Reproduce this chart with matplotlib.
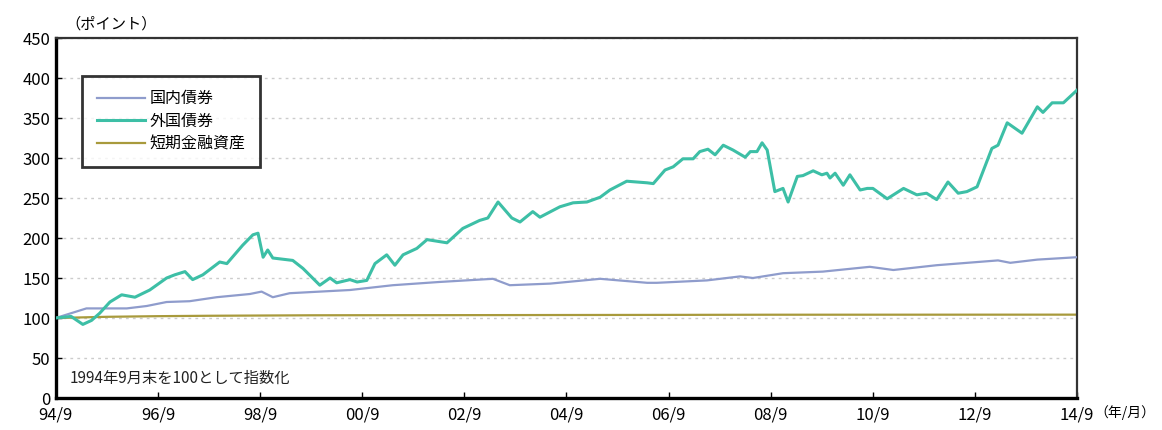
# %% Load the packages
import matplotlib
matplotlib.use('Agg')
import matplotlib.pyplot as plt
import numpy as np

plt.rcParams['font.family'] = ['Noto Sans CJK JP', 'DejaVu Sans']

# %% Data (index, end of Sep 1994 = 100), x in years since 94/9
foreign_t = [0, 0.3, 0.53, 0.7, 0.86, 1.06, 1.29, 1.55, 1.84, 2.17, 2.33, 2.53, 2.68,
             2.88, 3.21, 3.35, 3.66, 3.86, 3.96, 4.06, 4.15, 4.25, 4.64, 4.84, 5.17,
             5.37, 5.5, 5.76, 5.9, 6.09, 6.25, 6.48, 6.64, 6.8, 7.07, 7.27, 7.66,
             7.97, 8.3, 8.46, 8.66, 8.93, 9.09, 9.34, 9.48, 9.87, 10.13, 10.4, 10.66,
             10.85, 11.18, 11.38, 11.58, 11.7, 11.93, 12.09, 12.28, 12.48, 12.61,
             12.77, 12.91, 13.07, 13.26, 13.5, 13.6, 13.73, 13.83, 13.93, 14.08,
             14.24, 14.34, 14.52, 14.63, 14.83, 15.0, 15.1, 15.16, 15.26, 15.42,
             15.55, 15.75, 15.89, 16.0, 16.28, 16.6, 16.86, 17.05, 17.25, 17.47,
             17.67, 17.84, 18.04, 18.33, 18.45, 18.63, 18.92, 19.22, 19.33, 19.51,
             19.73, 20.0]
foreign = [100, 102, 92, 97, 106, 120, 129, 126, 135, 150, 154, 158, 148,
           154, 170, 168, 191, 204, 206, 176, 185, 175, 172, 162, 141,
           150, 144, 148, 145, 147, 168, 179, 166, 179, 187, 198, 194,
           212, 222, 225, 245, 225, 220, 233, 226, 239, 244, 245, 251,
           260, 271, 270, 269, 268, 285, 289, 299, 299, 308,
           311, 304, 316, 310, 301, 308, 308, 319, 310, 258,
           262, 245, 277, 278, 284, 279, 281, 275, 281, 266,
           279, 260, 262, 262, 249, 262, 254, 256, 248, 270,
           256, 258, 264, 312, 316, 344, 331, 364, 357, 369,
           369, 385]

domestic_t = [0, 0.6, 1.39, 1.78, 2.17, 2.62, 3.15, 3.8, 4.03, 4.25, 4.58, 5.76,
              6.6, 7.5, 8.56, 8.89, 9.68, 10.66, 11.58, 11.77, 12.75, 13.4, 13.65,
              14.24, 15.02, 15.94, 16.4, 17.25, 18.45, 18.69, 19.22, 20.0]
domestic = [100, 112, 112, 115, 120, 121, 126, 130, 133, 126, 131, 135,
            141, 145, 149, 141, 143, 149, 144, 144, 147, 152, 150,
            156, 158, 164, 160, 166, 172, 169, 173, 176]

short_t = [0, 1, 2, 3, 4, 5, 6, 8, 12, 14, 20]
short = [100, 101.5, 102.3, 102.8, 103.1, 103.4, 103.5, 103.6, 103.9, 104.1, 104.2]

tick_pos = list(range(0, 21, 2))
tick_labels = ['94/9', '96/9', '98/9', '00/9', '02/9', '04/9', '06/9',
               '08/9', '10/9', '12/9', '14/9']

# %% Colors
domestic_color = '#8f9ccc'
foreign_color = '#3dbfa6'
short_color = '#a89a3c'

# %% Plot
fig = plt.figure(figsize=(11.62, 4.30), dpi=100)
ax = fig.add_axes([0.048, 0.0744, 0.879, 0.8372])

ax.plot(domestic_t, domestic, color=domestic_color, lw=1.6, label='国内債券', zorder=3)
ax.plot(foreign_t, foreign, color=foreign_color, lw=2.2, label='外国債券', zorder=4)
ax.plot(short_t, short, color=short_color, lw=1.6, label='短期金融資産', zorder=2)

ax.set_xlim(0, 20)
ax.set_ylim(0, 450)
ax.set_yticks(range(0, 451, 50))
ax.set_xticks(tick_pos)
ax.set_xticklabels(tick_labels)
ax.tick_params(axis='both', labelsize=12, length=4, direction='in', width=1)
ax.tick_params(axis='x', pad=6)
ax.tick_params(axis='y', pad=4)
ax.yaxis.grid(True, ls=(0, (2, 3)), color='#cccccc', lw=1)
ax.set_axisbelow(True)

for side in ['left', 'bottom']:
    ax.spines[side].set_linewidth(2.4)
for side in ['top', 'right']:
    ax.spines[side].set_linewidth(1.6)
    ax.spines[side].set_color('#333333')

leg = ax.legend(loc='upper left', bbox_to_anchor=(0.026, 0.895), fontsize=11.5,
                frameon=True, fancybox=False, handlelength=3.0, borderpad=0.9,
                labelspacing=0.35, handletextpad=0.3, borderaxespad=0)
leg.get_frame().set_edgecolor('black')
leg.get_frame().set_linewidth(2)

ax.text(0.27, 25, '1994年9月末を100として指数化', fontsize=11, va='center', color='#222222')
fig.text(0.056, 0.945, '（ポイント）', fontsize=11, va='center', ha='left')
fig.text(0.942, 0.04, '（年/月）', fontsize=10, va='center', ha='left')

fig.savefig('out.png', dpi=100)
